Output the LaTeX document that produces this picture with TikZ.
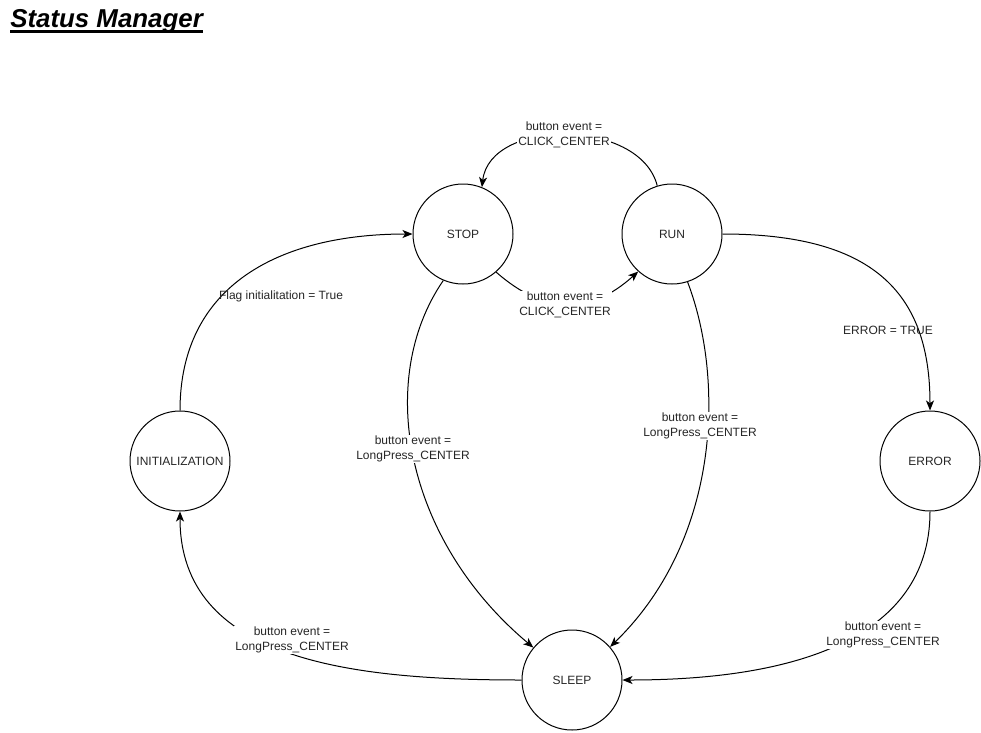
\documentclass[tikz,border=0pt]{standalone}
\usepackage{fontspec}
\setmainfont{Liberation Sans}
\usetikzlibrary{arrows.meta}
\begin{document}
\begin{tikzpicture}[x=0.75pt,y=-0.75pt,
  state/.style={draw, circle, line width=0.75pt, minimum size=75pt, inner sep=0pt, font=\fontsize{9}{11}\selectfont, text=black!85},
  edge/.style={line width=0.75pt, -{Stealth[length=7.5pt,width=6pt,inset=2pt]}},
  lab/.style={font=\fontsize{9}{11}\selectfont, align=center, inner sep=1pt, text=black!85},
  labw/.style={lab, fill=white}
]
\useasboundingbox (0,0) rectangle (981,732);
\node[anchor=base west, inner sep=0pt, font=\fontsize{19.4}{22}\selectfont\bfseries\itshape] (title) at (10,27) {Status Manager};
\draw[line width=1.6pt] ([yshift=-3.4pt]title.base west) -- ([yshift=-3.4pt]title.base east);

\node[state] (stop)  at (463,234) {STOP};
\node[state] (run)   at (672,234) {RUN};
\node[state] (init)  at (180,461) {INITIALIZATION};
\node[state] (error) at (930,461) {ERROR};
\node[state] (sleep) at (572,680) {SLEEP};

\draw[edge] (run.107) .. controls (640,118) and (490,118) .. (stop.68);
\draw[edge] (stop.311) .. controls (545,315) and (590,315) .. (run.228);
\draw[edge] (init.90) .. controls (180,285) and (280,234) .. (stop.180);
\draw[edge] (stop.247) .. controls (375,380) and (405,540) .. (sleep.140);
\draw[edge] (run.288) .. controls (725,380) and (720,540) .. (sleep.41);
\draw[edge] (run.0) .. controls (870,234) and (930,290) .. (error.90);
\draw[edge] (error.270) .. controls (930,620) and (830,680) .. (sleep.0);
\draw[edge] (sleep.180) .. controls (350,680) and (180,660) .. (init.270);

\node[labw] (l1) at (564,135) {button event =\\CLICK\_CENTER};
\node[labw] (l2) at (565,305) {button event =\\CLICK\_CENTER};
\node[lab]  (l3) at (281,296) {Flag initialitation = True};
\node[labw] (l4) at (413,449) {button event =\\LongPress\_CENTER};
\node[labw] (l5) at (700,426) {button event =\\LongPress\_CENTER};
\node[lab]  (l6) at (888,330) {ERROR = TRUE};
\node[labw] (l7) at (883,635) {button event =\\LongPress\_CENTER};
\node[labw] (l8) at (292,640) {button event =\\LongPress\_CENTER};
\end{tikzpicture}
\end{document}
